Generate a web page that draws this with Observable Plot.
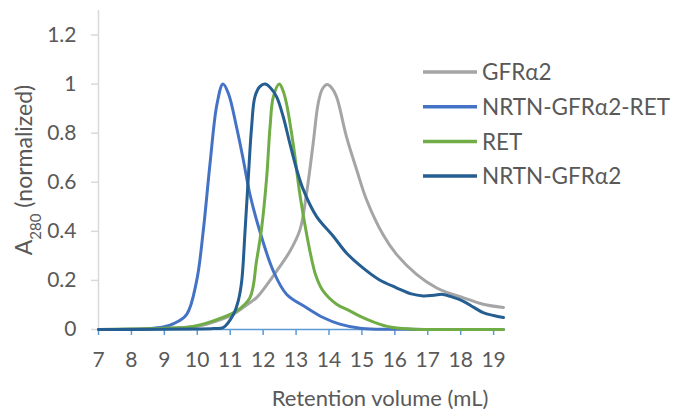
<!DOCTYPE html>
<html><head><meta charset="utf-8">
<script src="https://cdn.jsdelivr.net/npm/d3@7"></script>
<script src="https://cdn.jsdelivr.net/npm/@observablehq/plot@0.6"></script>
<style>body{margin:0;background:#fff} svg{font-family:Lato,sans-serif}</style>
</head><body><div id="chart"></div>
<script>
const seriesNames = ["GFRα2", "NRTN-GFRα2-RET", "RET", "NRTN-GFRα2"];
const seriesColors = ["#A5A5A5", "#4472C4", "#70AD47", "#255E91"];

const gfrX = [7, 8.5, 9.0, 9.5, 10.08, 10.6, 11.1, 11.5, 11.8, 12.1, 12.41, 12.81, 13.12, 13.32, 13.52, 13.67, 13.8, 13.95, 14.08, 14.23, 14.53, 14.84, 15.14, 15.64, 16.05, 16.66, 17.26, 17.6, 18.07, 18.68, 19.3];
const gfrY = [0, 0.002, 0.004, 0.008, 0.015, 0.035, 0.062, 0.1, 0.13, 0.18, 0.238, 0.318, 0.407, 0.556, 0.759, 0.92, 0.98, 0.998, 0.985, 0.948, 0.786, 0.651, 0.529, 0.387, 0.306, 0.225, 0.17, 0.15, 0.13, 0.103, 0.09];

const ternX = [7, 8, 8.5, 8.96, 9.3, 9.68, 9.98, 10.18, 10.39, 10.6, 10.78, 10.95, 11.2, 11.4, 11.6, 11.9, 12.31, 12.71, 13.32, 13.82, 14.33, 15, 16, 17, 18, 19.3];
const ternY = [0, 0.001, 0.003, 0.01, 0.025, 0.062, 0.198, 0.40, 0.68, 0.92, 1.0, 0.96, 0.82, 0.69, 0.55, 0.40, 0.238, 0.144, 0.089, 0.049, 0.022, 0.004, 0.001, 0, 0, 0];

const retX = [7, 8, 9.0, 9.78, 10.49, 11.2, 11.6, 11.8, 11.96, 12.11, 12.21, 12.31, 12.49, 12.6, 12.71, 12.91, 13.11, 13.26, 13.42, 13.6, 13.82, 14.23, 14.63, 15.0, 15.4, 15.85, 16.5, 17, 19.3];
const retY = [0, 0.002, 0.005, 0.01, 0.035, 0.076, 0.13, 0.28, 0.42, 0.624, 0.826, 0.948, 1.0, 0.975, 0.92, 0.759, 0.556, 0.434, 0.32, 0.22, 0.157, 0.103, 0.076, 0.05, 0.028, 0.01, 0.002, 0, 0];

const binX = [7, 9, 10, 10.5, 10.79, 11.1, 11.25, 11.35, 11.45, 11.55, 11.65, 11.75, 11.9, 12.06, 12.22, 12.41, 12.61, 12.81, 13.02, 13.22, 13.62, 14.13, 14.53, 15.04, 15.5, 16.05, 16.5, 16.86, 17.2, 17.46, 17.8, 18.07, 18.4, 18.68, 19.0, 19.3];
const binY = [0, 0.001, 0.002, 0.004, 0.008, 0.062, 0.12, 0.198, 0.40, 0.62, 0.826, 0.948, 0.99, 1.0, 0.985, 0.948, 0.867, 0.759, 0.651, 0.57, 0.461, 0.38, 0.312, 0.25, 0.205, 0.17, 0.145, 0.137, 0.14, 0.143, 0.13, 0.116, 0.09, 0.069, 0.057, 0.049];

const xTicks = [7, 8, 9, 10, 11, 12, 13, 14, 15, 16, 17, 18, 19];
const yTicks = [0, 0.2, 0.4, 0.6, 0.8, 1, 1.2];
const yTickLabels = ["0", "0.2", "0.4", "0.6", "0.8", "1", "1.2"];
const xTitle = "Retention volume (mL)";

const seriesXs = [gfrX, ternX, retX, binX];
const seriesYs = [gfrY, ternY, retY, binY];
const rows = [];
seriesNames.forEach((name, k) => {
  seriesXs[k].forEach((x, i) => rows.push({name, x, y: seriesYs[k][i]}));
});

const plot = Plot.plot({
  width: 674, height: 413,
  marginLeft: 98, marginRight: 171, marginTop: 10, marginBottom: 84,
  style: {fontFamily: "Lato, sans-serif", fontSize: "21px", color: "#595959", background: "#fff"},
  x: {domain: [7, 19.3]},
  y: {domain: [0, 1.3]},
  color: {domain: seriesNames, range: seriesColors},
  marks: [
    Plot.ruleX([7], {y1: 0, y2: 1.3, stroke: "#D9D9D9", strokeWidth: 1.5}),
    Plot.axisY({ticks: yTicks, tickFormat: (d) => yTickLabels[yTicks.indexOf(d)], tickSize: 7, tickPadding: 15, stroke: "#D9D9D9", strokeWidth: 1.5, label: null}),
    Plot.axisX({ticks: xTicks, tickFormat: d => String(d), tickSize: 6, tickPadding: 17, stroke: "#5B9BD5", strokeWidth: 1.5, label: null}),
    Plot.ruleY([0], {stroke: "#5B9BD5", strokeWidth: 1.5}),
    Plot.line(rows, {x: "x", y: "y", z: "name", stroke: "name", strokeWidth: 3, curve: "catmull-rom"})
  ]
});
document.getElementById("chart").appendChild(plot);

const svg = d3.select(plot);
const color = plot.scale("color");
// x title
svg.append("text").attr("x", 380).attr("y", 406).attr("text-anchor", "middle")
  .attr("fill", "#595959").style("font-size", "22px").text(xTitle);
// y title with subscript
const yt = svg.append("text").attr("transform", "translate(32,170) rotate(-90)")
  .attr("text-anchor", "middle").attr("fill", "#595959").style("font-size", "23px");
yt.append("tspan").text("A");
yt.append("tspan").attr("baseline-shift", "sub").style("font-size", "15px").text("280");
yt.append("tspan").text(" (normalized)");
// legend
const lg = svg.append("g").attr("text-anchor", "start");
seriesNames.forEach((name, i) => {
  const cy = 72 + i * 34.7;
  lg.append("line").attr("x1", 423).attr("x2", 477).attr("y1", cy).attr("y2", cy)
    .attr("stroke", color.apply(name)).attr("stroke-width", 3.5);
  lg.append("text").attr("x", 482).attr("y", cy).attr("dy", "0.36em").attr("text-anchor", "start")
    .attr("fill", "#595959").style("font-size", "22.5px").text(name);
});
</script>
</body></html>
